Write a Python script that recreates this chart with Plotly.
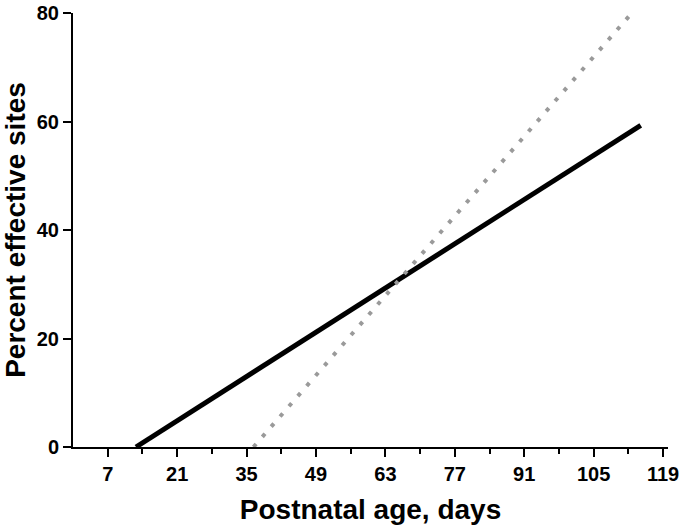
import plotly.graph_objects as go

# line end points
age_solid = [12.7, 114.5]
pct_solid = [0, 59.3]
age_dotted = [36.4, 112.7]
pct_dotted = [0, 80]

x_ticks = [7, 21, 35, 49, 63, 77, 91, 105, 119]
x_minor = [14, 28, 42, 56, 70, 84, 98, 112]
y_ticks = [0, 20, 40, 60, 80]

font = "Liberation Sans, Arial, sans-serif"

fig = go.Figure()
fig.add_scatter(x=age_solid, y=pct_solid, mode="lines",
                line=dict(color="black", width=5), showlegend=False)
fig.add_scatter(x=age_dotted, y=pct_dotted, mode="lines",
                line=dict(color="#9a9a9a", width=4, dash="4px,9.5px"),
                showlegend=False)

fig.update_layout(
    width=686, height=532,
    margin=dict(l=73, r=18, t=13, b=85),
    plot_bgcolor="white", paper_bgcolor="white",
    font=dict(family=font, color="black"),
)
fig.update_xaxes(
    range=[0, 120], tickvals=x_ticks, showgrid=False, zeroline=False,
    automargin=False,
    showline=True, linecolor="black", linewidth=2,
    ticks="outside", ticklen=8, tickwidth=2, tickcolor="black",
    tickfont=dict(size=20, family=font, weight="bold"),
    minor=dict(tickvals=x_minor, ticks="outside", ticklen=5, tickwidth=2,
               tickcolor="black", showgrid=False),
    title=dict(text="Postnatal age, days", standoff=15,
               font=dict(size=28, family=font, weight="bold")),
)
fig.update_yaxes(
    range=[0, 80], tickvals=y_ticks, showgrid=False, zeroline=False,
    automargin=False,
    showline=True, linecolor="black", linewidth=2,
    ticks="outside", ticklen=8, tickwidth=2, tickcolor="black",
    tickfont=dict(size=20, family=font, weight="bold"),
    title=dict(text="Percent effective sites", standoff=10,
               font=dict(size=28, family=font, weight="bold")),
)

# drop the page's default 8px body margin so the figure fills the window
fig.write_html("out.html", config={"displayModeBar": False},
               post_script="document.body.style.margin='0';document.body.style.overflow='hidden';")
